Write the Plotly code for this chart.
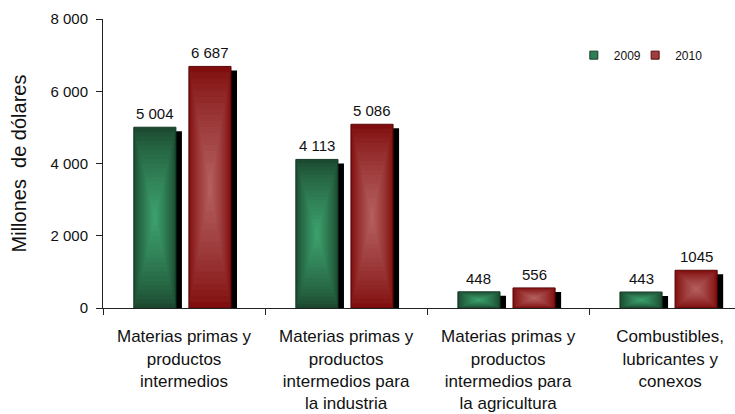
import plotly.graph_objects as go

categories = [
    "Materias primas y<br>productos<br>intermedios",
    "Materias primas y<br>productos<br>intermedios para<br>la industria",
    "Materias primas y<br>productos<br>intermedios para<br>la agricultura",
    "Combustibles,<br>lubricantes y<br>conexos",
]
values_2009 = [5004, 4113, 448, 443]
values_2010 = [6687, 5086, 556, 1045]
labels_2009 = ["5 004", "4 113", "448", "443"]
labels_2010 = ["6 687", "5 086", "556", "1045"]
y_tick_vals = [0, 2000, 4000, 6000, 8000]
y_tick_text = ["0", "2 000", "4 000", "6 000", "8 000"]

FONT = "Liberation Sans, Arial, sans-serif"
W = 0.26
series = [
    dict(name="2009", vals=values_2009, labels=labels_2009, off=-0.31, legend="legend",
         edge=(28, 74, 48), center=(60, 160, 108), line="#143a25"),
    dict(name="2010", vals=values_2010, labels=labels_2010, off=0.03, legend="legend2",
         edge=(128, 14, 14), center=(180, 94, 94), line="#5a0808"),
]

fig = go.Figure()
N = 20

def mix(a, b, t):
    return "rgb(%d,%d,%d)" % tuple(round(a[i] + (b[i] - a[i]) * t) for i in range(3))

for s in series:
    # drop shadow
    fig.add_trace(go.Bar(
        x=categories, y=[v - 110 for v in s["vals"]], width=W, offset=s["off"] + 0.037,
        marker=dict(color="black", line=dict(width=0)), showlegend=False, hoverinfo="skip"))
    for k in range(N):
        h = k / (2 * N)
        t = (k / (N - 1)) ** 0.8
        fig.add_trace(go.Bar(
            x=categories,
            y=[v * (1 - 2 * h) for v in s["vals"]],
            base=[v * h for v in s["vals"]],
            width=W * (1 - 2 * h),
            offset=s["off"] + W * h,
            marker=dict(color=mix(s["edge"], s["center"], t),
                        line=dict(width=1 if k == 0 else 0, color=s["line"])),
            showlegend=False, hoverinfo="skip"))
    # legend entry
    fig.add_trace(go.Scatter(
        x=[None], y=[None], mode="markers", name=s["name"], legend=s["legend"],
        marker=dict(symbol="square", size=8, color=mix(s["edge"], s["center"], 0.6),
                    line=dict(width=1, color=s["line"]))))
    for i, v in enumerate(s["vals"]):
        fig.add_annotation(x=i + s["off"] + W / 2, y=v, text=s["labels"][i],
                           showarrow=False, yanchor="bottom", yshift=3,
                           font=dict(family=FONT, size=15, color="#111"))

legend_common = dict(orientation="h", y=0.875, xanchor="left", yanchor="middle",
                     font=dict(size=12, family=FONT), bgcolor="rgba(0,0,0,0)")

fig.update_layout(
    width=735, height=414,
    margin=dict(l=103, r=0, t=19, b=106, autoexpand=False),
    paper_bgcolor="white", plot_bgcolor="white",
    barmode="overlay",
    font=dict(family=FONT, color="#111"),
    legend=dict(x=0.745, **legend_common),
    legend2=dict(x=0.842, **legend_common),
    xaxis=dict(range=[-0.5, 3.40], showgrid=False, showline=True, linecolor="#222",
               linewidth=1, ticks="outside", tickson="boundaries", ticklen=6,
               tickcolor="#222", tickfont=dict(size=17, family=FONT, color="#111"),
               ticklabelstandoff=13, automargin=False,
               zeroline=False, fixedrange=True),
    yaxis=dict(range=[0, 8000], tickvals=y_tick_vals, ticktext=y_tick_text,
               showgrid=False, showline=True, linecolor="#222", linewidth=1,
               ticks="outside", ticklen=6, tickcolor="#222", zeroline=False,
               ticklabelstandoff=5, automargin=False,
               tickfont=dict(size=15, family=FONT, color="#111"),
               title=dict(text="Millones  de dólares", font=dict(size=20, family=FONT, color="#111"),
                          standoff=18)),
)

fig.write_html("out.html", config={"displayModeBar": False},
               post_script="document.body.style.margin='0';document.body.style.overflow='hidden';")
